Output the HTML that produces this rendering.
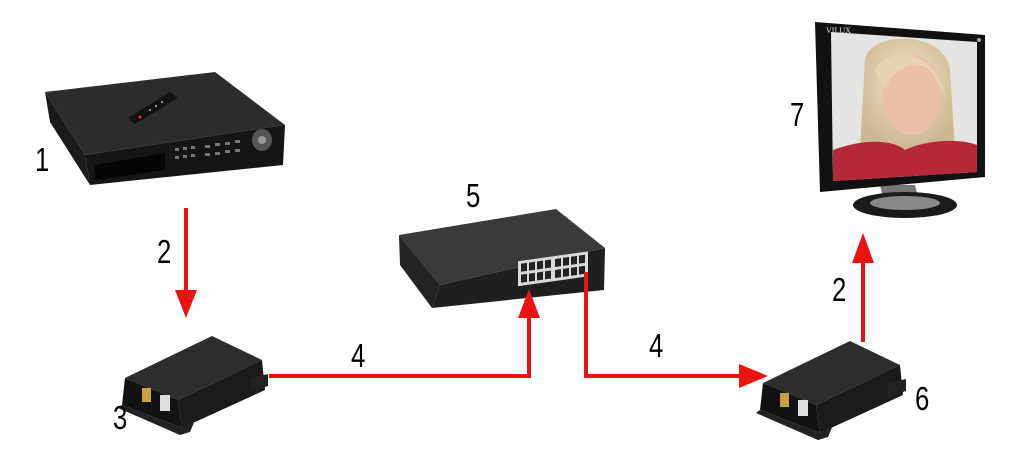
<!DOCTYPE html>
<html><head><meta charset="utf-8"><style>
html,body{margin:0;padding:0;background:#fff;width:1017px;height:454px;overflow:hidden}
svg{display:block}
text.l{font-family:"Liberation Sans",sans-serif;font-size:33px;fill:#000;transform-box:fill-box;transform-origin:left bottom;transform:scaleX(0.78)}
</style></head><body>
<svg width="1017" height="454" viewBox="0 0 1017 454" xmlns="http://www.w3.org/2000/svg">
<defs>
<radialGradient id="hair" cx="0.5" cy="0.4" r="0.6"><stop offset="0" stop-color="#efe3c8"/><stop offset="1" stop-color="#cdb890"/></radialGradient>
</defs>
<!-- DVR -->
<polygon points="45,92 215,72 285,125 85,155" fill="#2c2c2c"/>
<polygon points="45,92 85,155 90,185 50,122" fill="#1a1a1a"/>
<polygon points="85,155 285,125 283,165 90,185" fill="#151515"/>
<polygon points="95,165 165,153 165,170 95,180" fill="#050505"/>
<g fill="#777">
<rect x="175" y="148" width="4" height="3"/><rect x="183" y="147" width="4" height="3"/><rect x="191" y="146" width="4" height="3"/>
<rect x="175" y="156" width="4" height="3"/><rect x="183" y="155" width="4" height="3"/><rect x="191" y="154" width="4" height="3"/>
<rect x="205" y="145" width="5" height="3"/><rect x="215" y="143" width="5" height="3"/><rect x="225" y="142" width="5" height="3"/><rect x="235" y="140" width="5" height="3"/>
<rect x="205" y="153" width="5" height="3"/><rect x="215" y="152" width="5" height="3"/><rect x="225" y="150" width="5" height="3"/><rect x="235" y="149" width="5" height="3"/>
</g>
<ellipse cx="262" cy="140" rx="10" ry="11" fill="#555"/><circle cx="262" cy="140" r="4" fill="#999"/>
<polygon points="128,118 170,92 178,98 135,124" fill="#111"/>
<g fill="#c33"><circle cx="140" cy="117" r="1.5"/></g>
<g fill="#bbb"><circle cx="150" cy="110" r="1"/><circle cx="156" cy="106" r="1"/><circle cx="162" cy="102" r="1"/></g>
<!-- Switch -->
<polygon points="399,235 556,209 605,248 440,285" fill="#3a3a3a"/>
<polygon points="399,235 440,285 432,308 400,265" fill="#232323"/>
<polygon points="440,285 605,248 604,290 432,308" fill="#1f1f1f"/>
<rect x="518" y="260" width="70" height="25" fill="#d8d8d8" transform="skewY(-8) translate(0,74)"/>
<g fill="#222" transform="skewY(-8) translate(0,74)">
<rect x="521" y="263" width="6" height="8"/><rect x="529" y="263" width="6" height="8"/><rect x="537" y="263" width="6" height="8"/><rect x="545" y="263" width="6" height="8"/><rect x="555" y="263" width="6" height="8"/><rect x="563" y="263" width="6" height="8"/><rect x="571" y="263" width="6" height="8"/><rect x="579" y="263" width="6" height="8"/>
<rect x="521" y="274" width="6" height="8"/><rect x="529" y="274" width="6" height="8"/><rect x="537" y="274" width="6" height="8"/><rect x="545" y="274" width="6" height="8"/><rect x="555" y="274" width="6" height="8"/><rect x="563" y="274" width="6" height="8"/><rect x="571" y="274" width="6" height="8"/><rect x="579" y="274" width="6" height="8"/>
</g>
<!-- Extender 3 -->
<g id="ext">
<polygon points="125,378 212,336 262,360 178,400" fill="#2d2d2d"/>
<polygon points="178,400 262,360 265,390 182,428" fill="#1a1a1a"/>
<polygon points="125,378 178,400 182,428 122,405" fill="#111"/>
<polygon points="122,405 182,428 195,420 190,432 180,435 118,408" fill="#222"/>
<polygon points="250,378 268,374 268,386 250,392" fill="#222"/>
<rect x="142" y="388" width="9" height="14" fill="#c8a040"/>
<rect x="160" y="395" width="10" height="16" fill="#ddd"/>
</g>
<use href="#ext" transform="translate(638,5)"/>
<!-- Monitor -->
<polygon points="880,185 915,185 920,205 885,207" fill="#777"/>
<ellipse cx="905" cy="205" rx="52" ry="13" fill="#1a1a1a"/>
<ellipse cx="905" cy="203" rx="35" ry="7" fill="#888"/>
<polygon points="815,22 985,35 985,177 820,192" fill="#111"/>
<polygon points="831,32 977,42 977,172 833,181" fill="#e4e4e2"/>
<text x="826" y="33" style="font-family:'Liberation Serif',serif;font-size:8px;fill:#ddd">VILUX</text>
<circle cx="979" cy="40" r="2" fill="#aaa"/>
<path d="M865,60 C870,30 945,30 950,70 L955,150 L860,150 Z" fill="url(#hair)"/>
<ellipse cx="912" cy="95" rx="30" ry="40" fill="#e9c0a8"/>
<path d="M833,150 C860,140 890,138 905,150 C925,140 960,138 977,145 L977,172 L833,181 Z" fill="#b5283a"/>
<path d="M875,70 C890,45 935,50 945,95 L930,70 C915,60 895,65 885,90 Z" fill="#e6d5b0"/>
<!-- Arrows -->
<g stroke="#ee1111" stroke-width="4" fill="none">
<line x1="186" y1="208" x2="186" y2="292"/>
<polyline points="269,376 529,376 529,316"/>
<polyline points="586,272 586,376 742,376"/>
<line x1="863" y1="342" x2="863" y2="260"/>
</g>
<g fill="#ee1111">
<polygon points="175,290 197,290 186,318"/>
<polygon points="518,318 540,318 529,289"/>
<polygon points="739,364 739,388 768,376"/>
<polygon points="852,263 874,263 863,233"/>
</g>
<!-- Labels -->
<text class="l" x="35" y="171">1</text>
<text class="l" x="157" y="263">2</text>
<text class="l" x="113" y="429">3</text>
<text class="l" x="351" y="367">4</text>
<text class="l" x="466" y="207">5</text>
<text class="l" x="649" y="357">4</text>
<text class="l" x="915" y="410">6</text>
<text class="l" x="832" y="301">2</text>
<text class="l" x="790" y="126">7</text>
</svg>
</body></html>
